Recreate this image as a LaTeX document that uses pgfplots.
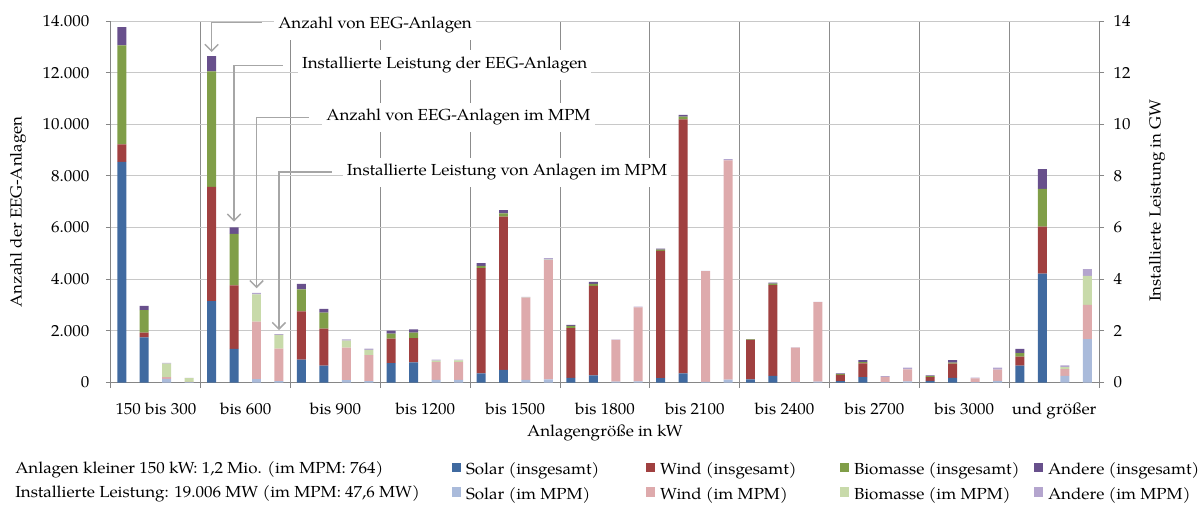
\documentclass[border=0pt]{standalone}
\usepackage{fontspec}
\setmainfont{texgyrepagella-regular.otf}[FakeStretch=1.06]
\usepackage{pgfplots}
\usepackage{pgfplotstable}
\pgfplotsset{compat=1.18}
\usetikzlibrary{arrows.meta}
\definecolor{cS}{RGB}{64,106,160}
\definecolor{cW}{RGB}{160,64,64}
\definecolor{cB}{RGB}{128,158,72}
\definecolor{cA}{RGB}{104,80,140}
\definecolor{cSM}{RGB}{170,187,219}
\definecolor{cWM}{RGB}{222,170,172}
\definecolor{cBM}{RGB}{200,218,170}
\definecolor{cAM}{RGB}{180,165,206}
\definecolor{axisgray}{RGB}{134,134,134}
\definecolor{sepgray}{RGB}{140,140,140}
\definecolor{gridgray}{RGB}{200,200,200}
\definecolor{annogray}{RGB}{166,166,166}

\pgfplotstableread{
x S W B A SM WM BM AM
0.12 8540 680 3840 700 0 0 0 0
0.37 1750 180 870 170 0 0 0 0
0.62 0 0 0 0 140 70 520 30
0.87 0 0 0 0 10 10 150 10
1.12 3150 4430 4470 590 0 0 0 0
1.37 1300 2460 2000 250 0 0 0 0
1.62 0 0 0 0 130 2230 1050 60
1.87 0 0 0 0 50 1260 530 30
2.12 890 1860 860 210 0 0 0 0
2.37 650 1440 620 140 0 0 0 0
2.62 0 0 0 0 90 1260 270 50
2.87 0 0 0 0 50 1010 200 50
3.12 750 950 190 120 0 0 0 0
3.37 780 940 210 130 0 0 0 0
3.62 0 0 0 0 100 690 60 40
3.87 0 0 0 0 100 690 70 30
4.12 350 4080 90 100 0 0 0 0
4.37 490 5930 130 130 0 0 0 0
4.62 0 0 0 0 100 3190 10 20
4.87 0 0 0 0 120 4620 20 60
5.12 180 1930 80 40 0 0 0 0
5.37 280 3460 80 80 0 0 0 0
5.62 0 0 0 0 30 1620 0 10
5.87 0 0 0 0 40 2870 0 30
6.12 170 4930 50 30 0 0 0 0
6.37 350 9840 110 60 0 0 0 0
6.62 0 0 0 0 20 4290 0 10
6.87 0 0 0 0 110 8490 0 50
7.12 120 1530 20 10 0 0 0 0
7.37 260 3510 60 40 0 0 0 0
7.62 0 0 0 0 10 1340 0 10
7.87 0 0 0 0 30 3080 0 10
8.12 50 250 20 30 0 0 0 0
8.37 210 530 50 80 0 0 0 0
8.62 0 0 0 0 10 210 0 30
8.87 0 0 0 0 40 470 0 70
9.12 60 150 40 30 0 0 0 0
9.37 180 550 40 100 0 0 0 0
9.62 0 0 0 0 10 150 0 30
9.87 0 0 0 0 60 440 0 80
10.12 650 350 140 160 0 0 0 0
10.37 4220 1820 1460 760 0 0 0 0
10.62 0 0 0 0 260 260 80 60
10.87 0 0 0 0 1680 1330 1120 260
}\data

\newcommand\fsz{\fontsize{12}{14}\selectfont}
\pgfplotsset{sqleg/.style={legend image code/.code={\fill[##1] (0pt,-0.5pt) rectangle (6.8pt,6.3pt);}}}

\begin{document}
\begin{tikzpicture}[font=\fsz,
  annobox/.style={anchor=west, fill=white, inner xsep=3pt, inner ysep=5pt},
  anno/.style={draw=annogray, line width=1.1pt, -{Straight Barb[length=5pt,width=10pt]}}]
\path[use as bounding box] (-83.25pt,-91.125pt) rectangle (819.75pt,286.875pt);
\begin{axis}[
  at={(0pt,0pt)}, anchor=south west, scale only axis,
  width=741pt, height=271.125pt,
  xmin=0, xmax=11, ymin=0, ymax=14000,
  clip=false,
  ybar stacked, bar width=0.1,
  axis x line*=bottom, axis y line*=left,
  xtick={0,1,...,11}, x tick label as interval,
  xticklabels={150 bis 300, bis 600, bis 900, bis 1200, bis 1500, bis 1800, bis 2100, bis 2400, bis 2700, bis 3000, und größer},
  xticklabel style={yshift=-8pt},
  yticklabel style={xshift=-9pt},
  ytick={0,2000,...,14000},
  scaled y ticks=false,
  /pgf/number format/1000 sep={.},
  /pgf/number format/assume math mode=true,
  xmajorgrids, ymajorgrids,
  x grid style={draw=sepgray, line width=0.75pt},
  y grid style={draw=gridgray, line width=0.75pt},
  tick align=outside, major tick length=3.75pt,
  tick style={draw=axisgray, line width=0.75pt},
  axis line style={draw=axisgray, line width=0.75pt},
  xlabel={Anlagengröße in kW}, ylabel={Anzahl der EEG-Anlagen},
  xlabel style={at={(axis description cs:0.5,-0.139)}, anchor=center},
  ylabel style={at={(axis description cs:-0.0941,0.472)}, anchor=center},
  legend columns=4,
  legend style={at={(0.3451,-0.222)}, anchor=north west, draw=none, fill=none,
    inner sep=0pt, outer sep=0pt, column sep=0pt, row sep=6.5pt,
    nodes={inner ysep=0pt, inner xsep=3.75pt, text height=8.5pt, text depth=3pt}},
]
\addplot[fill=cS, draw=none, sqleg] table[x=x, y=S]{\data}; \addlegendentry{\makebox[131.2pt][l]{Solar (insgesamt)}}
\addplot[fill=cW, draw=none, sqleg] table[x=x, y=W]{\data}; \addlegendentry{\makebox[131.2pt][l]{Wind (insgesamt)}}
\addplot[fill=cB, draw=none, sqleg] table[x=x, y=B]{\data}; \addlegendentry{\makebox[131.2pt][l]{Biomasse (insgesamt)}}
\addplot[fill=cA, draw=none, sqleg] table[x=x, y=A]{\data}; \addlegendentry{\makebox[131.2pt][l]{Andere (insgesamt)}}
\addplot[fill=cSM, draw=none, sqleg] table[x=x, y=SM]{\data}; \addlegendentry{\makebox[131.2pt][l]{Solar (im MPM)}}
\addplot[fill=cWM, draw=none, sqleg] table[x=x, y=WM]{\data}; \addlegendentry{\makebox[131.2pt][l]{Wind (im MPM)}}
\addplot[fill=cBM, draw=none, sqleg] table[x=x, y=BM]{\data}; \addlegendentry{\makebox[131.2pt][l]{Biomasse (im MPM)}}
\addplot[fill=cAM, draw=none, sqleg] table[x=x, y=AM]{\data}; \addlegendentry{\makebox[131.2pt][l]{Andere (im MPM)}}

\draw[anno] (axis cs:1.68,13935) -| (axis cs:1.12,12800);
\draw[anno] (axis cs:1.912,12280) -| (axis cs:1.37,6230);
\draw[anno] (axis cs:2.20,10260) -| (axis cs:1.62,3650);
\draw[anno] (axis cs:2.457,8160) -| (axis cs:1.87,2030);
\node[annobox] at (axis cs:1.815,13850) {Anzahl von EEG-Anlagen};
\node[annobox] at (axis cs:2.08,12300) {Installierte Leistung der EEG-Anlagen};
\node[annobox] at (axis cs:2.35,10270) {Anzahl von EEG-Anlagen im MPM};
\node[annobox] at (axis cs:2.58,8140) {Installierte Leistung von Anlagen im MPM};
\end{axis}
\begin{axis}[
  at={(0pt,0pt)}, anchor=south west, scale only axis,
  width=741pt, height=271.125pt,
  xmin=0, xmax=11, ymin=0, ymax=14,
  axis x line=none, axis y line*=right,
  ytick={0,2,...,14},
  yticklabel style={xshift=3.75pt},
  /pgf/number format/assume math mode=true,
  tick align=outside, major tick length=3.75pt,
  tick style={draw=axisgray, line width=0.75pt},
  axis line style={draw=axisgray, line width=0.75pt},
  ylabel={Installierte Leistung in GW},
  ylabel style={at={(axis description cs:1.0587,0.503)}, anchor=center},
]
\end{axis}
\node[anchor=base west, inner sep=0pt] at (-72pt,-67.9pt) {Anlagen kleiner 150 kW: 1,2 Mio. (im MPM: 764)};
\node[anchor=base west, inner sep=0pt] at (-72pt,-85.9pt) {Installierte Leistung: 19.006 MW (im MPM: 47,6 MW)};
\end{tikzpicture}
\end{document}
